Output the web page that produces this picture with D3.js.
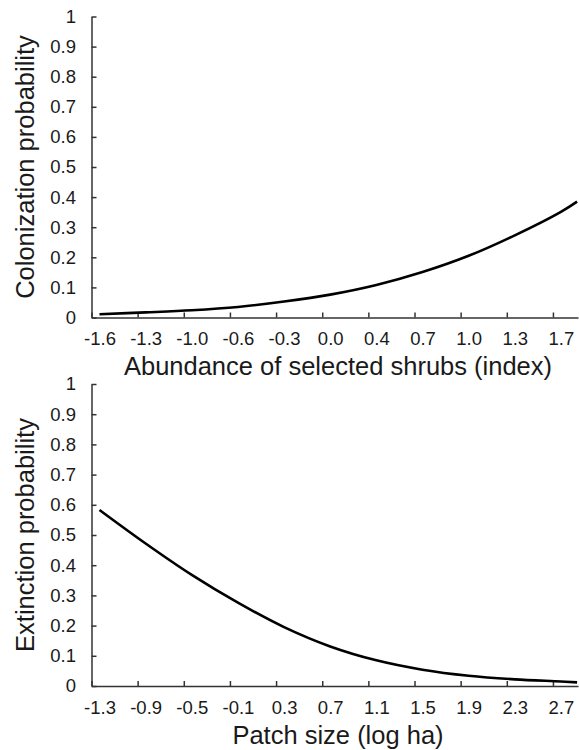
<!DOCTYPE html>
<html>
<head>
<meta charset="utf-8">
<script src="https://cdnjs.cloudflare.com/ajax/libs/d3/7.8.5/d3.min.js"></script>
<style>
  body { margin: 0; background: #fff; }
  text { font-family: Arial, "Liberation Sans", sans-serif; fill: #1a1a1a; }
</style>
</head>
<body>
<div id="chart"></div>
<script>
// colonization panel: category labels (as printed) and curve
var colLabels = ["-1.6", "-1.3", "-1.0", "-0.6", "-0.3", "0.0", "0.4", "0.7", "1.0", "1.3", "1.7"];
var colPos = [0, 1, 2, 3, 4, 5, 6, 7, 8, 9, 10, 10.35];
var colProb = [0.011, 0.017, 0.024, 0.035, 0.053, 0.076, 0.108, 0.151, 0.205, 0.273, 0.351, 0.385];

// extinction panel
var extLabels = ["-1.3", "-0.9", "-0.5", "-0.1", "0.3", "0.7", "1.1", "1.5", "1.9", "2.3", "2.7"];
var extPos = [0, 1, 2, 3, 4, 5, 6, 7, 8, 9, 10, 10.35];
var extProb = [0.583, 0.472, 0.368, 0.276, 0.195, 0.131, 0.085, 0.054, 0.034, 0.022, 0.015, 0.012];

var yTicks = [0, 0.1, 0.2, 0.3, 0.4, 0.5, 0.6, 0.7, 0.8, 0.9, 1];

var width = 579;
var height = 750;
var left = 91.5;
var right = 578;

var svg = d3.select('#chart').append('svg')
  .attr('width', width)
  .attr('height', height);

function drawPanel(yTop, yBottom, labels, pos, prob, yTitle, xTitle) {
  var x = d3.scaleLinear()
    .domain([-0.173, 10.37])
    .range([left, right]);
  var y = d3.scaleLinear()
    .domain([0, 1])
    .range([yBottom, yTop]);

  var g = svg.append('g');

  // y axis, ticks pointing inward
  var yAxis = g.append('g')
    .attr('transform', 'translate(' + left + ',0)')
    .call(d3.axisLeft(y)
      .tickValues(yTicks)
      .tickSizeInner(-5)
      .tickSizeOuter(0)
      .tickPadding(15.5)
      .tickFormat(function(d) { return String(d); }));

  // x axis tick marks (sit between the label positions)
  var tickIdx = d3.range(labels.length).map(function(i) { return i - 0.173; });
  var xTicks = g.append('g')
    .attr('transform', 'translate(0,' + yBottom + ')')
    .call(d3.axisBottom(x)
      .tickValues(tickIdx)
      .tickSizeInner(-5)
      .tickSizeOuter(0)
      .tickFormat(''));

  // x axis labels
  var xLabels = g.append('g')
    .attr('transform', 'translate(0,' + yBottom + ')')
    .call(d3.axisBottom(x)
      .tickValues(d3.range(labels.length))
      .tickSize(0)
      .tickPadding(14.4)
      .tickFormat(function(i) { return labels[i]; }));
  xLabels.select('.domain').remove();

  [yAxis, xTicks].forEach(function(a) {
    a.selectAll('.domain, line').attr('stroke', '#333').attr('stroke-width', 1.5);
  });
  g.selectAll('.tick text')
    .attr('font-size', 18.5)
    .attr('font-family', 'Arial, "Liberation Sans", sans-serif')
    .attr('fill', '#1a1a1a');

  var line = d3.line()
    .x(function(d) { return x(d[0]); })
    .y(function(d) { return y(d[1]); })
    .curve(d3.curveCatmullRom.alpha(0.5));

  g.append('path')
    .datum(d3.zip(pos, prob))
    .attr('fill', 'none')
    .attr('stroke', '#000')
    .attr('stroke-width', 2.6)
    .attr('d', line);

  g.append('text')
    .attr('transform', 'translate(34,' + ((yTop + yBottom) / 2) + ') rotate(-90)')
    .attr('text-anchor', 'middle')
    .attr('font-size', 25.5)
    .text(yTitle);

  g.append('text')
    .attr('x', 338)
    .attr('y', yBottom + 57.5)
    .attr('text-anchor', 'middle')
    .attr('font-size', 25.5)
    .text(xTitle);
}

drawPanel(16.5, 317.5, colLabels, colPos, colProb,
  'Colonization probability', 'Abundance of selected shrubs (index)');
drawPanel(384, 686, extLabels, extPos, extProb,
  'Extinction probability', 'Patch size (log ha)');
</script>
</body>
</html>
